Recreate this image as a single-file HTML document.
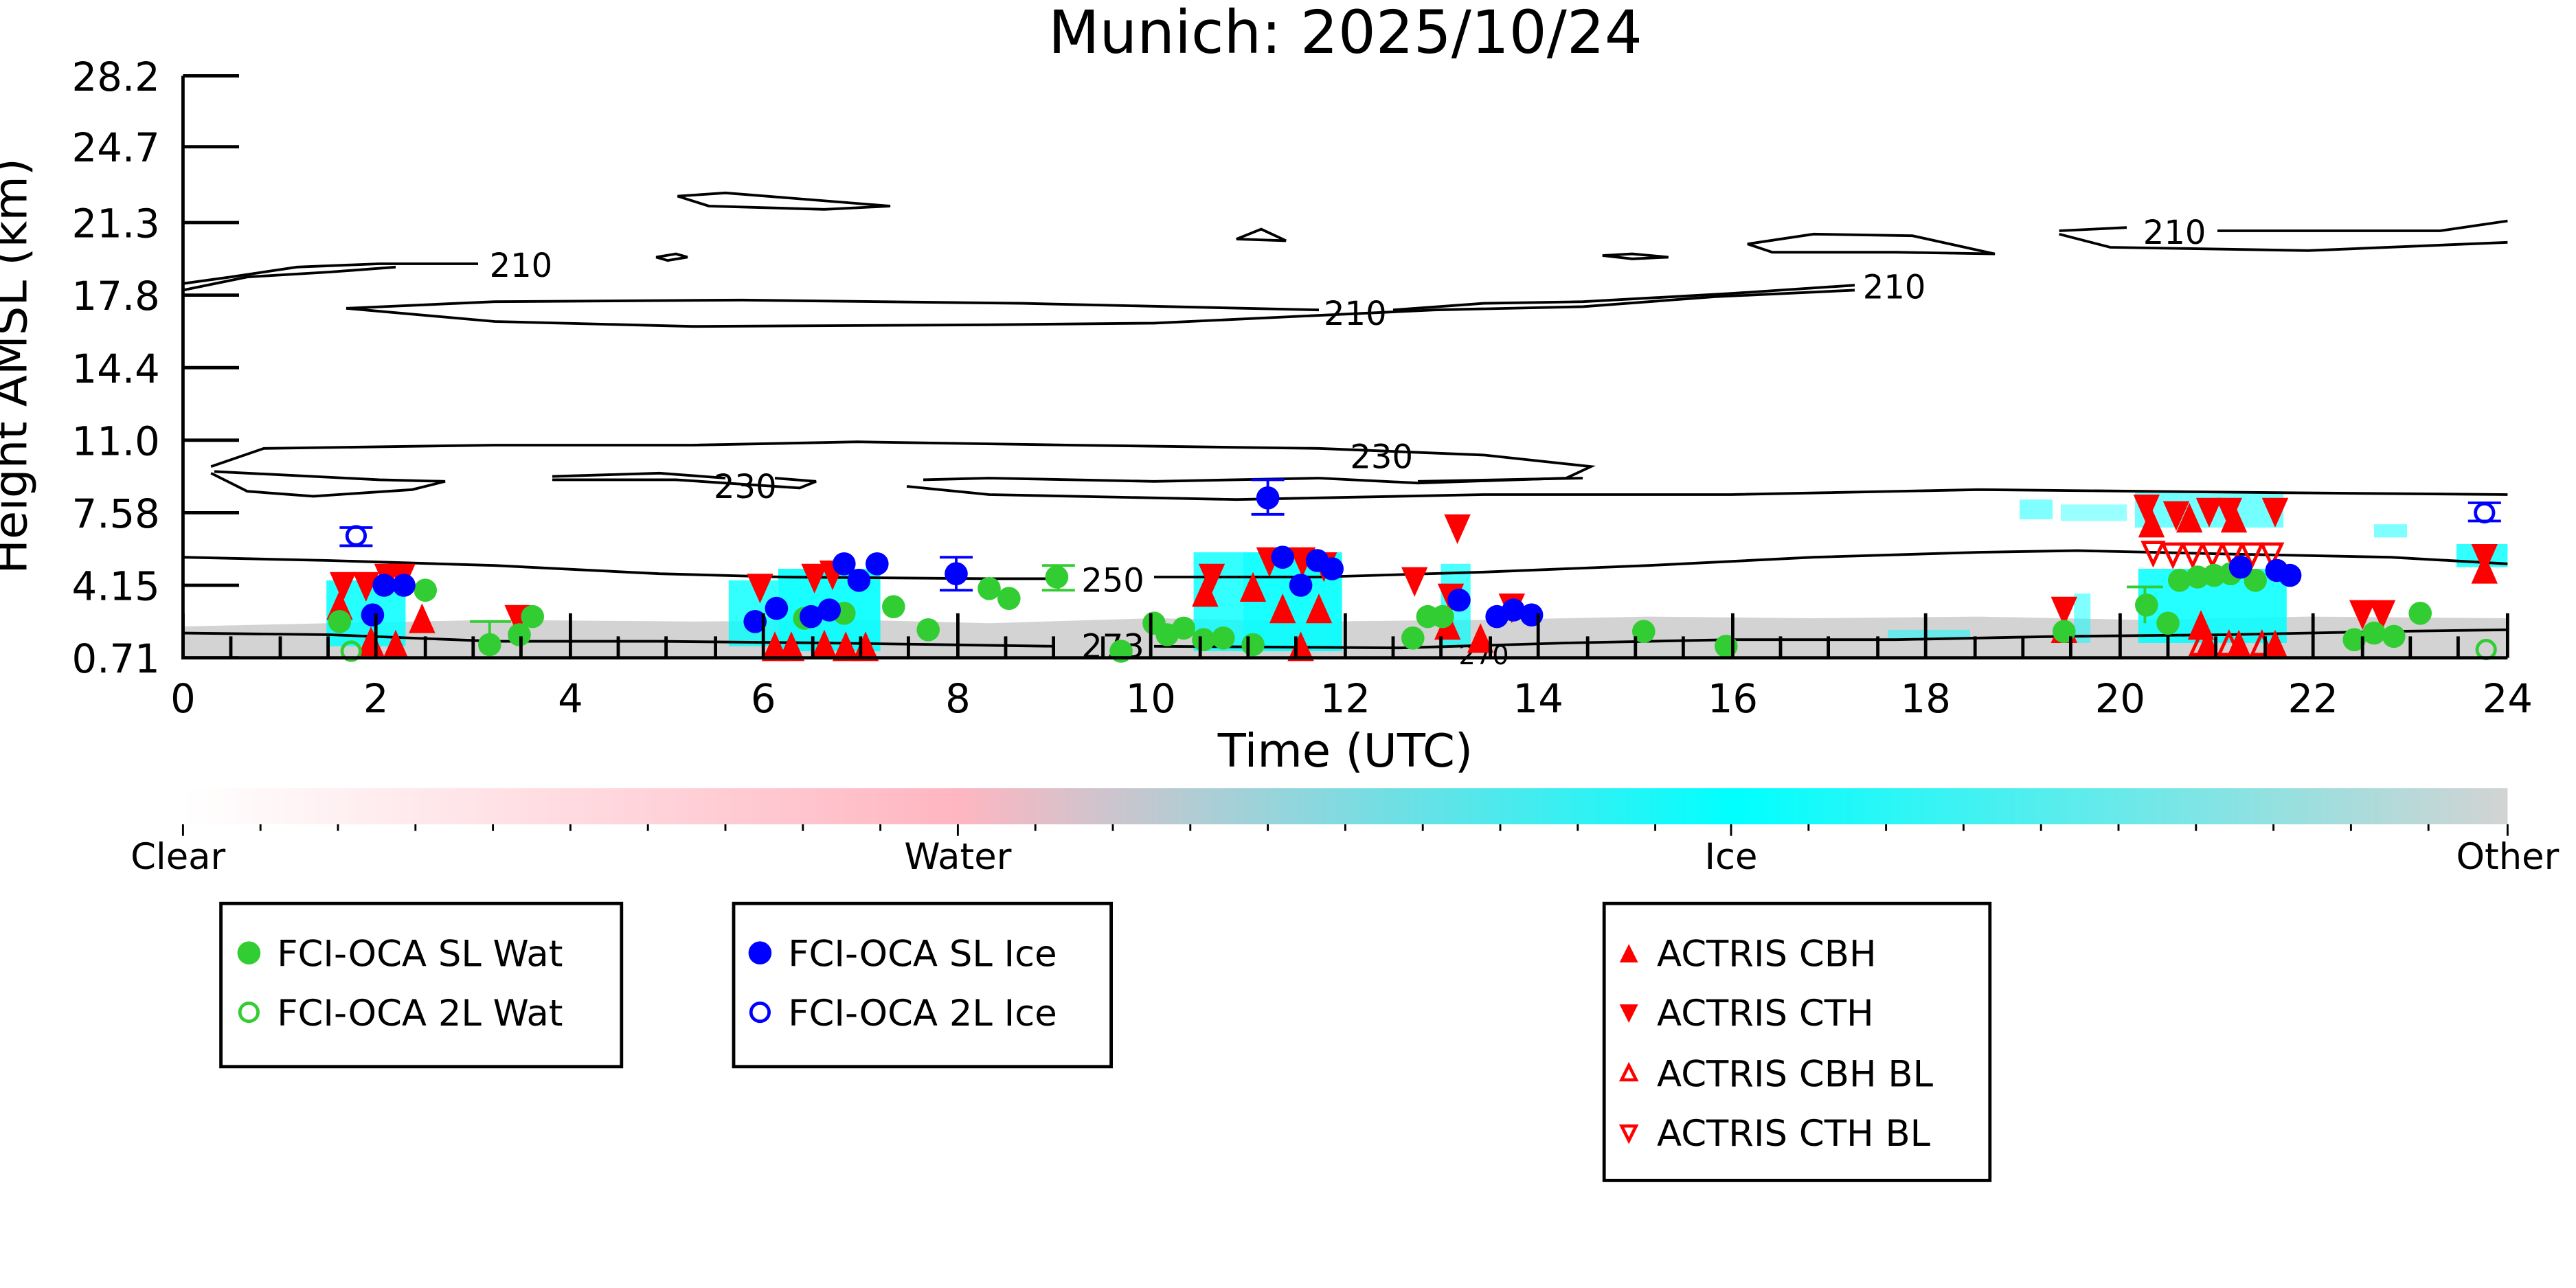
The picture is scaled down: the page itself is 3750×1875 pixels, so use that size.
<!DOCTYPE html>
<html><head><meta charset="utf-8"><style>html,body{margin:0;padding:0;background:#fff}svg{display:block}</style></head>
<body>
<svg width="3750" height="1875" viewBox="0 0 1562.5 781.25" xmlns="http://www.w3.org/2000/svg" font-family="'DejaVu Sans','Liberation Sans',sans-serif">
<defs>
<linearGradient id="cb" x1="0" x2="1" y1="0" y2="0">
<stop offset="0" stop-color="#ffffff"/><stop offset="0.333" stop-color="#ffb6c1"/><stop offset="0.667" stop-color="#00ffff"/><stop offset="1" stop-color="#d3d3d3"/>
</linearGradient>
<g id="gc"><circle r="7" fill="#32cd32"/></g>
<g id="bc"><circle r="7" fill="#0000ff"/></g>
<g id="gco"><circle r="5.5" fill="none" stroke="#32cd32" stroke-width="2"/></g>
<g id="bco"><circle r="5.5" fill="none" stroke="#0000ff" stroke-width="2"/></g>
<g id="tu"><path d="M0,-10 L8,8 L-8,8Z" fill="#ff0000"/></g>
<g id="td"><path d="M0,10 L8,-8 L-8,-8Z" fill="#ff0000"/></g>
<g id="tuo"><path d="M0,-7 L6,6 L-6,6Z" fill="none" stroke="#ff0000" stroke-width="2"/></g>
<g id="tdo"><path d="M0,7 L6,-6 L-6,-6Z" fill="none" stroke="#ff0000" stroke-width="2"/></g>
</defs>
<rect width="1562.5" height="781.25" fill="#fff"/>
<text x="816" y="32" font-size="36" text-anchor="middle">Munich: 2025/10/24</text>

<path d="M111,380 L200,378 L300,376 L420,377 L520,376 L600,378 L700,375 L800,377 L900,376 L1000,374 L1100,375 L1200,374 L1300,376 L1400,374 L1521,375 L1521,398 L111,398Z" fill="#d3d3d3"/>
<g fill="#00ffff">
<rect x="198" y="352" width="48" height="40" opacity="0.85"/>
<rect x="442" y="352" width="30" height="40" opacity="0.8"/>
<rect x="472" y="345" width="62" height="50" opacity="0.9"/>
<rect x="724" y="335" width="30" height="60" opacity="0.8"/>
<rect x="754" y="335" width="60" height="60" opacity="0.9"/>
<rect x="874" y="342" width="18" height="50" opacity="0.7"/>
<rect x="1297" y="345" width="90" height="45" opacity="0.85"/>
<rect x="1225" y="303" width="20" height="12" opacity="0.5"/>
<rect x="1250" y="306" width="40" height="10" opacity="0.4"/>
<rect x="1295" y="298" width="90" height="22" opacity="0.55"/>
<rect x="1440" y="318" width="20" height="8" opacity="0.5"/>
<rect x="1490" y="330" width="31" height="14" opacity="0.8"/>
<rect x="1258" y="360" width="10" height="30" opacity="0.5"/>
<rect x="1145" y="382" width="50" height="6" opacity="0.5"/>
</g>

<g fill="none" stroke="#000" stroke-width="1.6">
<path d="M111,172 L140,168 L180,162 L230,160 L290,160"/>
<path d="M111,176 L150,168 L200,165 L240,162"/>
<path d="M411,119 L440,117 L540,125 L500,127 L430,125 Z"/>
<path d="M398,156 L410,154 L417,156 L405,158Z"/>
<path d="M750,145 L765,139 L780,146 Z"/>
<path d="M972,155 L990,154 L1012,156 L990,157Z"/>
<path d="M210,187 L300,183 L450,182 L620,184 L800,188"/>
<path d="M845,188 L900,184 L960,183 L1050,178 L1125,173"/>
<path d="M1125,176 L1040,180 L960,186 L870,188 L700,196 L600,197 L420,198 L300,195 L210,187"/>
<path d="M1060,148 L1100,142 L1160,143 L1210,154 L1150,153 L1075,153 Z"/>
<path d="M1249,140 L1290,138"/>
<path d="M1345,140 L1480,140 L1521,134"/>
<path d="M1249,142 L1280,150 L1400,152 L1521,147"/>
<path d="M128,283 L160,272 L300,270 L420,270 L520,268 L650,270 L800,272 L900,276 L965,283 L950,290 L860,293 L800,290"/>
<path d="M130,286 L230,291 L270,292 L250,297 L190,301 L150,298 L128,287"/>
<path d="M335,289 L400,287 L440,290"/>
<path d="M470,290 L495,292 L485,296 L410,291 L335,291"/>
<path d="M560,291 L600,290 L700,292 L800,290"/>
<path d="M860,292 L960,290"/>
<path d="M550,295 L600,300 L750,303 L900,300 L1050,300 L1200,297 L1300,298 L1400,299 L1521,300"/>
<path d="M111,338 L200,340 L300,343 L400,348 L475,350 L600,351 L640,351"/>
<path d="M700,350 L800,350 L900,347 L1000,343 L1100,338 L1200,335 L1260,334 L1350,336 L1450,338 L1521,342"/>
<path d="M111,384 L200,385 L300,389 L400,389 L500,390 L640,392"/>
<path d="M700,392 L850,393 L950,390 L1050,388 L1150,388 L1250,386 L1350,385 L1450,383 L1521,382"/>
</g>
<g font-size="20" text-anchor="middle">
<text x="316" y="168">210</text>
<text x="822" y="197">210</text>
<text x="1149" y="181">210</text>
<text x="1319" y="148">210</text>
<text x="838" y="284">230</text>
<text x="452" y="302">230</text>
<text x="675" y="359">250</text>
<text x="675" y="399">273</text>
<text x="900" y="403" font-size="16">270</text>
</g>

<g stroke="#0000ff" stroke-width="1.6" fill="none">
<path d="M759,291 H779 M769,291 V312 M759,312 H779"/>
<path d="M570,338 H590 M580,338 V358 M570,358 H590"/>
<path d="M206,320 H226 M206,331 H226"/>
<path d="M1497,305 H1517 M1497,316 H1517"/>
</g>
<g stroke="#32cd32" stroke-width="1.6" fill="none">
<path d="M632,343 H652 M642,343 V358 M632,358 H652"/>
<path d="M285,377 H310 M297,377 V395"/>
<path d="M1290,356 H1312 M1301,356 V378"/>
</g>

<g>
<use href="#td" x="208" y="355"/><use href="#td" x="222" y="355"/><use href="#td" x="235" y="350"/><use href="#td" x="244" y="350"/>
<use href="#td" x="461" y="356"/><use href="#td" x="494" y="350"/><use href="#td" x="505" y="348"/><use href="#td" x="770" y="340"/>
<use href="#td" x="790" y="340"/><use href="#td" x="803" y="343"/><use href="#td" x="735" y="350"/><use href="#td" x="884" y="320"/>
<use href="#td" x="858" y="352"/><use href="#td" x="1302" y="308"/><use href="#td" x="1320" y="312"/><use href="#td" x="1340" y="310"/>
<use href="#td" x="1352" y="310"/><use href="#td" x="1380" y="310"/><use href="#td" x="1507" y="338"/><use href="#td" x="1252" y="370"/>
<use href="#td" x="1433" y="372"/><use href="#td" x="1445" y="372"/><use href="#td" x="314" y="375"/><use href="#td" x="880" y="362"/><use href="#td" x="917" y="368"/>
<use href="#tu" x="206" y="368"/><use href="#tu" x="225" y="390"/><use href="#tu" x="240" y="392"/><use href="#tu" x="470" y="393"/>
<use href="#tu" x="480" y="393"/><use href="#tu" x="500" y="392"/><use href="#tu" x="513" y="393"/><use href="#tu" x="525" y="393"/>
<use href="#tu" x="731" y="360"/><use href="#tu" x="760" y="357"/><use href="#tu" x="778" y="370"/><use href="#tu" x="800" y="370"/>
<use href="#tu" x="878" y="380"/><use href="#tu" x="898" y="388"/><use href="#tu" x="1305" y="318"/><use href="#tu" x="1328" y="315"/>
<use href="#tu" x="1355" y="315"/><use href="#tu" x="1507" y="346"/><use href="#tu" x="1252" y="382"/><use href="#tu" x="1339" y="392"/>
<use href="#tu" x="1358" y="392"/><use href="#tu" x="1380" y="392"/><use href="#tu" x="1335" y="380"/><use href="#tu" x="256" y="376"/><use href="#tu" x="789" y="393"/>
<use href="#tdo" x="1306" y="335"/><use href="#tdo" x="1318" y="336"/><use href="#tdo" x="1330" y="336"/><use href="#tdo" x="1342" y="336"/>
<use href="#tdo" x="1354" y="336"/><use href="#tdo" x="1366" y="336"/><use href="#tdo" x="1378" y="336"/>
<use href="#tuo" x="1335" y="391"/><use href="#tuo" x="1352" y="391"/><use href="#tuo" x="1372" y="391"/>
</g>
<g>
<use href="#gc" x="206" y="377"/><use href="#gc" x="258" y="358"/><use href="#gc" x="297" y="391"/><use href="#gc" x="323" y="374"/>
<use href="#gc" x="315" y="385"/><use href="#gc" x="488" y="375"/><use href="#gc" x="512" y="372"/><use href="#gc" x="542" y="368"/>
<use href="#gc" x="563" y="382"/><use href="#gc" x="600" y="357"/><use href="#gc" x="612" y="363"/><use href="#gc" x="641" y="350"/>
<use href="#gc" x="700" y="378"/><use href="#gc" x="718" y="381"/><use href="#gc" x="742" y="387"/><use href="#gc" x="760" y="391"/>
<use href="#gc" x="857" y="387"/><use href="#gc" x="866" y="374"/><use href="#gc" x="875" y="374"/><use href="#gc" x="997" y="383"/>
<use href="#gc" x="1047" y="392"/><use href="#gc" x="1252" y="383"/><use href="#gc" x="1302" y="367"/><use href="#gc" x="1315" y="378"/>
<use href="#gc" x="1322" y="352"/><use href="#gc" x="1333" y="350"/><use href="#gc" x="1343" y="349"/><use href="#gc" x="1353" y="348"/>
<use href="#gc" x="1368" y="352"/><use href="#gc" x="1428" y="388"/><use href="#gc" x="1440" y="384"/><use href="#gc" x="1468" y="372"/>
<use href="#gc" x="1452" y="386"/><use href="#gc" x="680" y="395"/><use href="#gc" x="708" y="385"/><use href="#gc" x="730" y="388"/>
<use href="#gco" x="213" y="395"/><use href="#gco" x="1508" y="394"/>
</g>
<g>
<use href="#bc" x="226" y="373"/><use href="#bc" x="233" y="355"/><use href="#bc" x="245" y="355"/><use href="#bc" x="458" y="377"/>
<use href="#bc" x="471" y="369"/><use href="#bc" x="492" y="374"/><use href="#bc" x="503" y="370"/><use href="#bc" x="512" y="342"/>
<use href="#bc" x="521" y="352"/><use href="#bc" x="532" y="342"/><use href="#bc" x="580" y="348"/><use href="#bc" x="769" y="302"/>
<use href="#bc" x="778" y="338"/><use href="#bc" x="789" y="355"/><use href="#bc" x="799" y="340"/><use href="#bc" x="808" y="345"/>
<use href="#bc" x="885" y="364"/><use href="#bc" x="908" y="374"/><use href="#bc" x="918" y="370"/><use href="#bc" x="929" y="373"/>
<use href="#bc" x="1359" y="344"/><use href="#bc" x="1381" y="346"/><use href="#bc" x="1389" y="349"/>
<use href="#bco" x="216" y="325"/><use href="#bco" x="1507" y="311"/>
</g>

<g stroke="#000" stroke-width="2" fill="none">
<path d="M111,46 V399 H1521"/>
<path d="M111,46 H145 M111,89 H145 M111,135 H145 M111,179 H145 M111,223 H145 M111,267 H145 M111,311 H145 M111,355 H145 M111,399 H145"/>
<path d="M111,399 V372 M228,399 V372 M346,399 V372 M463,399 V372 M581,399 V372 M698,399 V372 M816,399 V372 M933,399 V372 M1051,399 V372 M1168,399 V372 M1286,399 V372 M1403,399 V372 M1521,399 V372"/>
<path d="M140,399 V386 M170,399 V386 M199,399 V386 M258,399 V386 M287,399 V386 M316,399 V386 M375,399 V386 M404,399 V386 M434,399 V386 M493,399 V386 M522,399 V386 M551,399 V386 M610,399 V386 M639,399 V386 M669,399 V386 M728,399 V386 M757,399 V386 M786,399 V386 M845,399 V386 M874,399 V386 M904,399 V386 M963,399 V386 M992,399 V386 M1021,399 V386 M1080,399 V386 M1109,399 V386 M1139,399 V386 M1198,399 V386 M1227,399 V386 M1256,399 V386 M1315,399 V386 M1344,399 V386 M1374,399 V386 M1433,399 V386 M1462,399 V386 M1491,399 V386"/>
</g>
<g font-size="24" text-anchor="end">
<text x="97" y="55">28.2</text><text x="97" y="98">24.7</text><text x="97" y="144">21.3</text><text x="97" y="188">17.8</text>
<text x="97" y="232">14.4</text><text x="97" y="276">11.0</text><text x="97" y="320">7.58</text><text x="97" y="364">4.15</text><text x="97" y="408">0.71</text>
</g>
<g font-size="24" text-anchor="middle">
<text x="111" y="432">0</text><text x="228" y="432">2</text><text x="346" y="432">4</text><text x="463" y="432">6</text><text x="581" y="432">8</text>
<text x="698" y="432">10</text><text x="816" y="432">12</text><text x="933" y="432">14</text><text x="1051" y="432">16</text><text x="1168" y="432">18</text>
<text x="1286" y="432">20</text><text x="1403" y="432">22</text><text x="1521" y="432">24</text>
<text x="816" y="465" font-size="28">Time (UTC)</text>
</g>
<text transform="translate(16,222) rotate(-90)" font-size="28" text-anchor="middle">Height AMSL (km)</text>

<rect x="111" y="478" width="1410" height="22" fill="url(#cb)"/>
<g stroke="#000" stroke-width="1.2">
<path d="M111,500 V507 M581,500 V507 M1050,500 V507 M1521,500 V507"/>
<path d="M158,500 V504 M205,500 V504 M252,500 V504 M299,500 V504 M346,500 V504 M393,500 V504 M440,500 V504 M487,500 V504 M534,500 V504 M628,500 V504 M675,500 V504 M722,500 V504 M769,500 V504 M816,500 V504 M863,500 V504 M910,500 V504 M957,500 V504 M1004,500 V504 M1097,500 V504 M1144,500 V504 M1191,500 V504 M1238,500 V504 M1285,500 V504 M1332,500 V504 M1379,500 V504 M1426,500 V504 M1473,500 V504"/>
</g>
<g font-size="22" text-anchor="middle">
<text x="108" y="527">Clear</text><text x="581" y="527">Water</text><text x="1050" y="527">Ice</text><text x="1521" y="527">Other</text>
</g>

<g fill="none" stroke="#000" stroke-width="2">
<rect x="134" y="548" width="243" height="99"/>
<rect x="445" y="548" width="229" height="99"/>
<rect x="973" y="548" width="234" height="168"/>
</g>
<use href="#gc" x="151" y="578"/><use href="#gco" x="151" y="614"/>
<use href="#bc" x="461" y="578"/><use href="#bco" x="461" y="614"/>
<g transform="translate(988,579) scale(0.8)"><path d="M0,-8 L7,6 L-7,6Z" fill="#ff0000"/></g>
<g transform="translate(988,614) scale(0.8)"><path d="M0,8 L7,-6 L-7,-6Z" fill="#ff0000"/></g>
<g transform="translate(988,651) scale(0.8)"><path d="M0,-6 L5.5,5 L-5.5,5Z" fill="none" stroke="#ff0000" stroke-width="2.4"/></g>
<g transform="translate(988,687) scale(0.8)"><path d="M0,6 L5.5,-5 L-5.5,-5Z" fill="none" stroke="#ff0000" stroke-width="2.4"/></g>
<g font-size="22">
<text x="168" y="586">FCI-OCA SL Wat</text><text x="168" y="622">FCI-OCA 2L Wat</text>
<text x="478" y="586">FCI-OCA SL Ice</text><text x="478" y="622">FCI-OCA 2L Ice</text>
<text x="1005" y="586">ACTRIS CBH</text><text x="1005" y="622">ACTRIS CTH</text>
<text x="1005" y="659">ACTRIS CBH BL</text><text x="1005" y="695">ACTRIS CTH BL</text>
</g>
</svg>
</body></html>
